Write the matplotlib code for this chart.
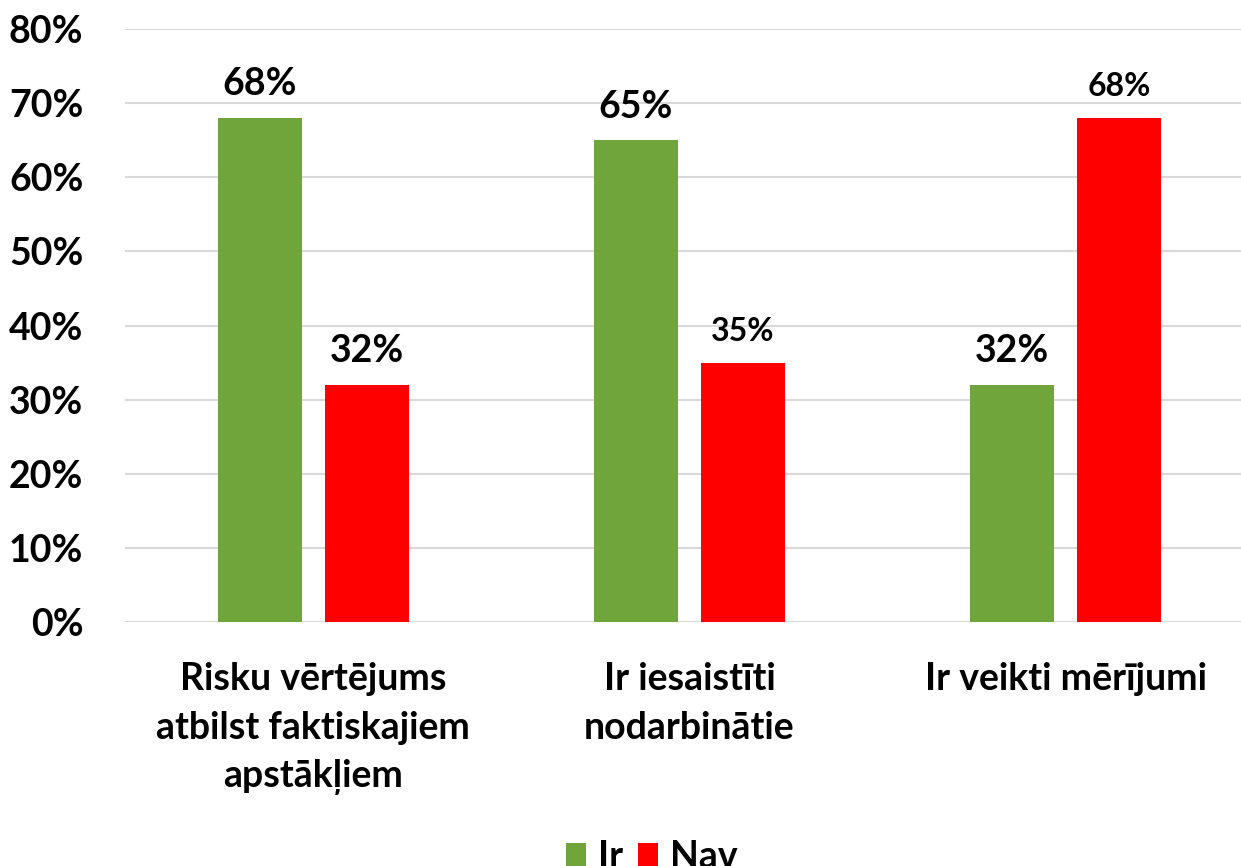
import matplotlib.pyplot as plt
import numpy as np

categories = ['Risku vērtējums\natbilst faktiskajiem\napstākļiem', 'Ir iesaistīti\nnodarbinātie', 'Ir veikti mērījumi']
ir = [68, 65, 32]
nav = [32, 35, 68]
series_names = ['Ir', 'Nav']
yticks = [0, 10, 20, 30, 40, 50, 60, 70, 80]

plt.rcParams['font.family'] = ['Lato', 'DejaVu Sans']

fig = plt.figure(figsize=(12.41, 8.66), dpi=100)
# prawa krawędź osi nieco poza obrazem, jak w oryginale
ax = fig.add_axes([125 / 1241, 1 - 622 / 866, (1254 - 125) / 1241, (622 - 29) / 866])

x = np.arange(len(categories))
w = 0.223
off = (w + 0.061) / 2
b1 = ax.bar(x - off, ir, w, color='#6FA53A', label=series_names[0], zorder=3)
b2 = ax.bar(x + off, nav, w, color='#FF0000', label=series_names[1], zorder=3)

# etykiety nad słupkami (dwie mniejsze jak w oryginale)
small = {(1, 1), (1, 2)}
for s, bars in enumerate([b1, b2]):
    for i, r in enumerate(bars):
        fs = 23 if (s, i) in small else 27
        ax.annotate(f'{r.get_height():.0f}%', (r.get_x() + r.get_width() / 2, r.get_height()),
                    xytext=(0, 12), textcoords='offset points', ha='center', va='bottom',
                    fontsize=fs, fontweight='bold')

ax.set_xlim(-0.5, 2.5)
ax.set_ylim(0, 80)
ax.set_yticks(yticks)
ax.set_yticklabels([f'{t}%' for t in yticks], fontsize=27, fontweight='bold')
ax.set_xticks(x)
ax.set_xticklabels(categories, fontsize=27, fontweight='bold', linespacing=1.52)
ax.tick_params(length=0)
ax.tick_params(axis='y', pad=30)
ax.tick_params(axis='x', pad=29)
ax.grid(axis='y', color='#D9D9D9', linewidth=1.5, zorder=0)
for sp in ax.spines.values():
    sp.set_visible(False)

fig.legend(loc='upper center', bbox_to_anchor=(0.525, 60 / 866), ncol=2, frameon=False,
           prop={'size': 27, 'weight': 'bold'}, handlelength=0.55, handleheight=0.55,
           columnspacing=0.4, handletextpad=0.3)

fig.savefig('out.png', dpi=100)
